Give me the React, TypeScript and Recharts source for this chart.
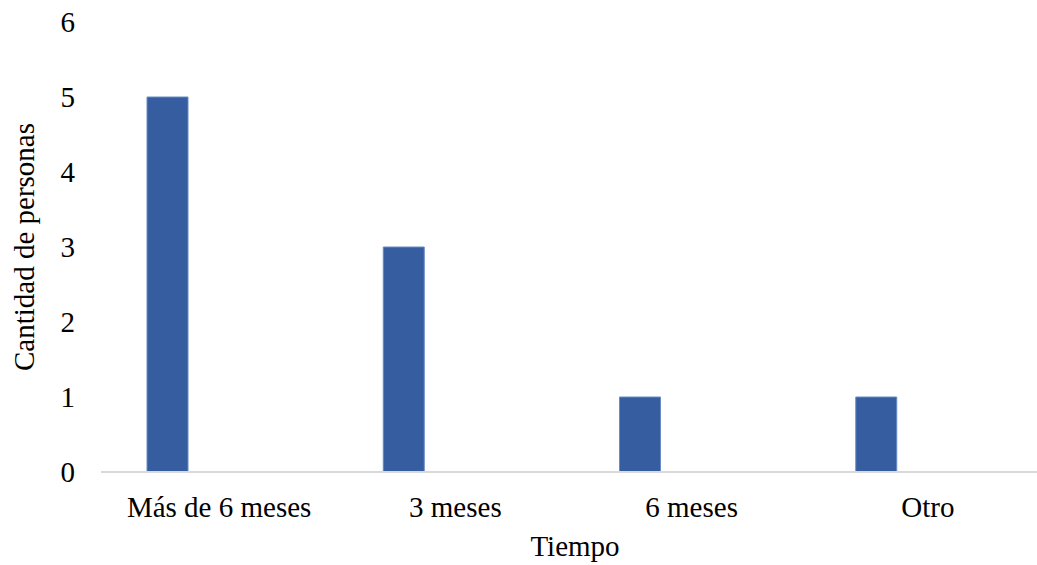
import React from 'react'
import { BarChart, Bar, XAxis, YAxis } from 'recharts'

const categories = ['Más de 6 meses', '3 meses', '6 meses', 'Otro']
const personas = [5, 3, 1, 1]
const serie2 = [0, 0, 0, 0]
const yTicks = [0, 1, 2, 3, 4, 5, 6]

const data = categories.map((c, i) => ({ tiempo: c, personas: personas[i], serie2: serie2[i] }))

const font = "'Times New Roman', 'Liberation Serif', serif"

function YTitle(props: any) {
  const { x, y, height } = props.viewBox
  const cx = x + 24
  const cy = y + height / 2
  return (
    <text x={cx} y={cy} transform={`rotate(-90, ${cx}, ${cy})`} textAnchor="middle" dominantBaseline="central"
      fontFamily={font} fontSize={29} fill="#000">
      Cantidad de personas
    </text>
  )
}

function XTitle() {
  return (
    <text x={575} y={556} textAnchor="middle" fontFamily={font} fontSize={29} fill="#000">
      Tiempo
    </text>
  )
}

export default function App() {
  return (
    <div style={{ position: 'absolute', left: 0, top: 0, width: 1037, height: 565, overflow: 'hidden', background: '#fff' }}>
      <BarChart
        width={1046}
        height={565}
        data={data}
        margin={{ top: 22, right: 0, left: 0, bottom: 0 }}
        barSize={41}
        barGap={63}
      >
        <XAxis
          dataKey="tiempo"
          height={93}
          tickSize={0}
          tickMargin={24}
          axisLine={{ stroke: '#d9d9d9', strokeWidth: 2 }}
          tick={{ fontFamily: font, fontSize: 29, fill: '#000' }}
          interval={0}
          label={<XTitle />}
        />
        <YAxis
          width={101}
          domain={[0, 6]}
          ticks={yTicks}
          tickSize={0}
          tickMargin={26}
          axisLine={false}
          tick={{ fontFamily: font, fontSize: 29, fill: '#000' }}
          label={<YTitle />}
        />
        <Bar dataKey="personas" fill="#355D9F" stroke="#6A8CC6" strokeWidth={1} isAnimationActive={false} />
        <Bar dataKey="serie2" fill="#ED7D31" isAnimationActive={false} />
      </BarChart>
    </div>
  )
}
